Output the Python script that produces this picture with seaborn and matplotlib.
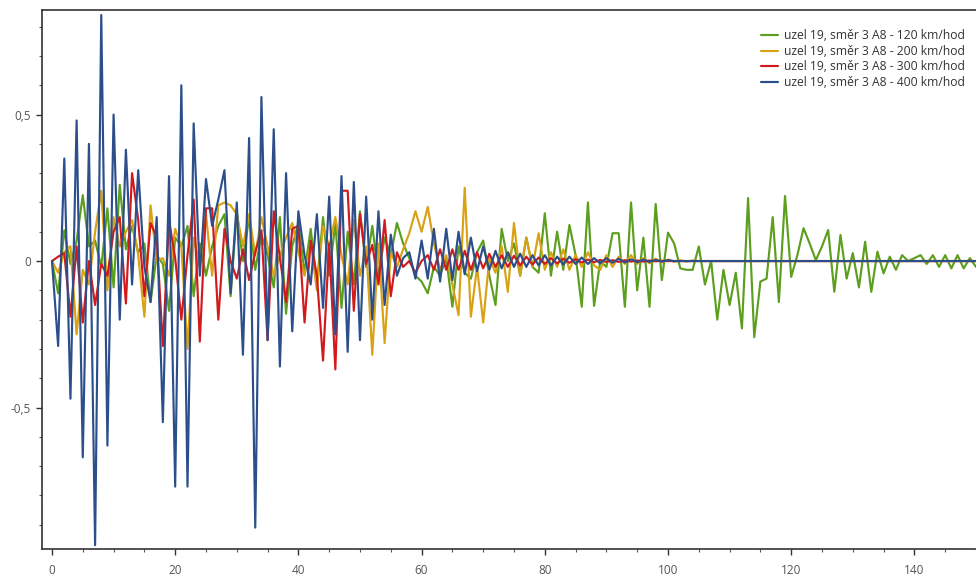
import numpy as np
import pandas as pd
import matplotlib
matplotlib.use("Agg")
import matplotlib.pyplot as plt
from matplotlib.ticker import MultipleLocator, FuncFormatter
import seaborn as sns

# time step index
x = list(range(151))

labels = [
    "uzel 19, směr 3 A8 - 120 km/hod",
    "uzel 19, směr 3 A8 - 200 km/hod",
    "uzel 19, směr 3 A8 - 300 km/hod",
    "uzel 19, směr 3 A8 - 400 km/hod",
]

v120 = [
    0.00, -0.11, 0.105, -0.01, 0.07, 0.225, 0.05, 0.07, -0.02, 0.18,
    -0.09, 0.26, 0.04, 0.12, 0.03, 0.06, -0.14, 0.02, -0.01, -0.17,
    0.08, 0.05, 0.12, -0.12, 0.06, -0.05, 0.05, 0.12, 0.16, -0.12,
    0.17, 0.00, 0.15, -0.03, 0.09, 0.02, -0.09, 0.15, -0.18, 0.05,
    0.13, -0.04, 0.11, -0.08, 0.15, -0.05, 0.13, -0.16, 0.10, -0.08,
    0.17, -0.02, 0.12, -0.05, 0.08, 0.02, 0.13, 0.06, 0.01, -0.05,
    -0.07, -0.11, -0.02, -0.05, 0.01, -0.156, 0.05, -0.04, -0.06, 0.03,
    0.07, -0.05, -0.15, 0.11, 0.00, 0.06, -0.05, 0.08, -0.02, -0.04,
    0.163, -0.05, 0.10, -0.03, 0.123, 0.02, -0.156, 0.20, -0.153, 0.00,
    -0.02, 0.095, 0.095, -0.156, 0.20, -0.10, 0.08, -0.156, 0.195, -0.065,
    0.097, 0.06, -0.025, -0.03, -0.03, 0.05, -0.08, 0.00, -0.20, -0.03,
    -0.15, -0.04, -0.23, 0.215, -0.26, -0.07, -0.06, 0.15, -0.14, 0.222,
    -0.054, 0.02, 0.112, 0.06, 0.003, 0.05, 0.106, -0.105, 0.089, -0.06,
    0.027, -0.09, 0.066, -0.105, 0.032, -0.042, 0.015, -0.03, 0.02, 0.00,
    0.01, 0.02, -0.01, 0.02, -0.02, 0.02, -0.025, 0.02, -0.025, 0.01,
    -0.02,
]

v200 = [
    0.00, -0.04, 0.03, 0.05, -0.25, -0.03, -0.08, 0.10, 0.24, -0.10,
    0.15, 0.05, 0.10, 0.14, 0.02, -0.19, 0.19, 0.00, 0.01, -0.05,
    0.11, 0.05, -0.30, 0.08, -0.02, 0.16, -0.05, 0.19, 0.20, 0.19,
    0.16, 0.05, 0.16, 0.02, 0.15, 0.05, -0.05, 0.02, 0.08, 0.13,
    0.03, -0.05, 0.06, -0.10, 0.12, 0.05, 0.15, 0.02, -0.08, 0.14,
    -0.05, 0.05, -0.32, 0.06, -0.28, 0.03, -0.02, 0.04, 0.095, 0.17,
    0.10, 0.185, 0.06, -0.03, 0.02, -0.08, -0.185, 0.25, -0.19, -0.02,
    -0.21, 0.01, -0.04, 0.05, -0.105, 0.13, -0.05, 0.08, -0.02, 0.095,
    -0.03, 0.03, -0.02, 0.04, -0.03, 0.02, -0.02, 0.03, -0.015, -0.03,
    0.02, -0.02, 0.015, -0.01, 0.02, -0.01, 0.01, -0.008, 0.008, -0.005,
    0.005, -0.003, 0.003, -0.002, 0.002, 0.00, 0.00, 0.00, 0.00, 0.00,
    0.00, 0.00, 0.00, 0.00, 0.00, 0.00, 0.00, 0.00, 0.00, 0.00,
    0.00, 0.00, 0.00, 0.00, 0.00, 0.00, 0.00, 0.00, 0.00, 0.00,
    0.00, 0.00, 0.00, 0.00, 0.00, 0.00, 0.00, 0.00, 0.00, 0.00,
    0.00, 0.00, 0.00, 0.00, 0.00, 0.00, 0.00, 0.00, 0.00, 0.00,
    0.00,
]

v300 = [
    0.00, 0.015, 0.027, -0.19, 0.05, -0.21, 0.00, -0.15, -0.01, -0.05,
    0.10, 0.15, -0.145, 0.30, 0.14, -0.12, 0.13, 0.08, -0.29, 0.14,
    0.01, -0.20, 0.02, 0.21, -0.275, 0.18, 0.18, -0.20, 0.11, 0.00,
    -0.06, 0.04, -0.065, 0.03, 0.105, -0.27, 0.17, 0.01, -0.14, 0.11,
    0.12, -0.21, 0.07, -0.05, -0.34, 0.06, -0.37, 0.24, 0.24, -0.17,
    0.16, -0.01, 0.055, -0.08, 0.14, -0.12, 0.03, -0.02, 0.00, -0.04,
    0.00, 0.02, -0.03, 0.04, -0.03, 0.04, -0.03, 0.035, -0.03, 0.03,
    -0.025, 0.025, -0.02, 0.02, -0.02, 0.018, -0.015, 0.015, -0.012, 0.012,
    -0.01, 0.01, -0.008, 0.008, -0.006, 0.006, -0.005, 0.005, -0.004, 0.004,
    -0.003, 0.003, -0.003, 0.003, -0.002, 0.002, -0.002, 0.002, -0.001, 0.001,
    0.00, 0.00, 0.00, 0.00, 0.00, 0.00, 0.00, 0.00, 0.00, 0.00,
    0.00, 0.00, 0.00, 0.00, 0.00, 0.00, 0.00, 0.00, 0.00, 0.00,
    0.00, 0.00, 0.00, 0.00, 0.00, 0.00, 0.00, 0.00, 0.00, 0.00,
    0.00, 0.00, 0.00, 0.00, 0.00, 0.00, 0.00, 0.00, 0.00, 0.00,
    0.00, 0.00, 0.00, 0.00, 0.00, 0.00, 0.00, 0.00, 0.00, 0.00,
    0.00,
]

v400 = [
    0.00, -0.29, 0.35, -0.47, 0.48, -0.67, 0.40, -0.97, 0.84, -0.63,
    0.50, -0.20, 0.38, -0.08, 0.31, -0.02, -0.14, 0.15, -0.55, 0.29,
    -0.77, 0.60, -0.77, 0.47, -0.05, 0.28, 0.12, 0.21, 0.31, -0.11,
    0.20, -0.32, 0.42, -0.91, 0.56, -0.27, 0.45, -0.36, 0.30, -0.24,
    0.17, 0.02, -0.08, 0.16, -0.16, 0.22, -0.25, 0.29, -0.31, 0.27,
    -0.27, 0.22, -0.20, 0.17, -0.15, 0.09, -0.05, 0.01, 0.03, -0.06,
    0.07, -0.06, 0.11, -0.07, 0.11, -0.065, 0.10, -0.045, 0.08, -0.035,
    0.05, -0.03, 0.035, -0.025, 0.03, -0.02, 0.025, -0.02, 0.02, -0.015,
    0.02, -0.015, 0.015, -0.012, 0.015, -0.01, 0.012, -0.01, 0.01, -0.008,
    0.01, -0.006, 0.008, -0.005, 0.006, -0.004, 0.005, -0.003, 0.004, -0.002,
    0.003, 0.00, 0.00, 0.00, 0.00, 0.00, 0.00, 0.00, 0.00, 0.00,
    0.00, 0.00, 0.00, 0.00, 0.00, 0.00, 0.00, 0.00, 0.00, 0.00,
    0.00, 0.00, 0.00, 0.00, 0.00, 0.00, 0.00, 0.00, 0.00, 0.00,
    0.00, 0.00, 0.00, 0.00, 0.00, 0.00, 0.00, 0.00, 0.00, 0.00,
    0.00, 0.00, 0.00, 0.00, 0.00, 0.00, 0.00, 0.00, 0.00, 0.00,
    0.00,
]

colors = ["#5c9e1e", "#d9a114", "#d21a1d", "#2c4f8c"]

series = [v120, v200, v300, v400]
df = pd.concat(
    [pd.DataFrame({"x": x, "value": vals, "series": lab})
     for vals, lab in zip(series, labels)],
    ignore_index=True,
)

sns.set_theme(style="white")
plt.rcParams["font.family"] = ["Open Sans", "DejaVu Sans"]

fig = plt.figure(figsize=(9.76, 5.79), dpi=100)
ax = fig.add_axes([42 / 976, 30 / 579, (976 - 42) / 976, (549 - 10) / 579])

sns.lineplot(
    data=df, x="x", y="value", hue="series", hue_order=labels,
    palette=colors, linewidth=1.55, estimator=None, sort=False, ax=ax,
)

ax.set_xlim(-1.62, 150.0)
ax.set_ylim(-0.983, 0.857)
ax.set_xlabel("")
ax.set_ylabel("")

ax.xaxis.set_major_locator(MultipleLocator(20))
ax.xaxis.set_minor_locator(MultipleLocator(5))
ax.yaxis.set_major_locator(MultipleLocator(0.5))
ax.yaxis.set_minor_locator(MultipleLocator(0.1))
ax.yaxis.set_major_formatter(
    FuncFormatter(lambda v, p: ("%g" % round(v, 2)).replace(".", ","))
)

ax.tick_params(axis="both", which="major", direction="out", length=4,
               width=1, color="#333333", labelsize=8.5, labelcolor="#555555",
               left=True, bottom=True)
ax.tick_params(axis="x", which="major", pad=7)
ax.tick_params(axis="y", which="major", pad=4)
ax.tick_params(axis="both", which="minor", direction="out", length=2.5,
               width=0.8, color="#555555", left=True, bottom=True)

for side in ["left", "bottom", "top"]:
    ax.spines[side].set_color("#333333")
    ax.spines[side].set_linewidth(1.2)
ax.spines["right"].set_visible(False)

handles, labs = ax.get_legend_handles_labels()
leg = ax.legend(
    handles, labs, loc="upper right", bbox_to_anchor=(0.996, 0.978),
    frameon=False, fontsize=8.7, handlelength=1.4, handletextpad=0.5,
    labelspacing=0.22, borderaxespad=0.2,
)
for t in leg.get_texts():
    t.set_color("#333333")

fig.savefig("out.png", dpi=100)
